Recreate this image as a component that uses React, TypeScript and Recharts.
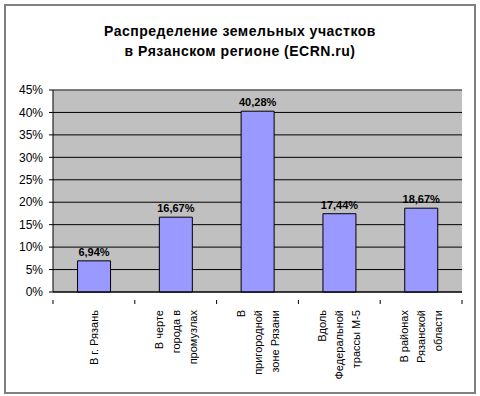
import React from "react";
import {
  BarChart,
  Bar,
  XAxis,
  YAxis,
  CartesianGrid,
  LabelList,
  ReferenceLine,
} from "recharts";

const categories: string[][] = [
  ["В г. Рязань"],
  ["В черте", "города в", "промузлах"],
  ["В", "пригородной", "зоне Рязани"],
  ["Вдоль", "Федеральной", "трассы М-5"],
  ["В районах", "Рязанской", "области"],
];

const shares: number[] = [6.94, 16.67, 40.28, 17.44, 18.67];

const yTicks: number[] = [0, 5, 10, 15, 20, 25, 30, 35, 40, 45];

const data = categories.map((lines, i) => ({
  name: lines.join(" "),
  lines,
  value: shares[i],
}));

const W = 480;
const H = 396;
const margin = { top: 90, right: 18, left: 8, bottom: 0 };
const yAxisWidth = 45;
const xAxisHeight = 104;
const font = "Arial, 'Liberation Sans', sans-serif";

const plotWidth = W - margin.left - margin.right - yAxisWidth;
const band = plotWidth / categories.length;

const fmt = (v: unknown) => `${Number(v).toFixed(2).replace(".", ",")}%`;

function XTick(props: any) {
  const { x, y, payload, index } = props;
  const lines: string[] = data[index]?.lines ?? [String(payload.value)];
  const y0 = y + 10;
  const s = 17;
  return (
    <g>
      <line x1={x - band / 2} x2={x - band / 2} y1={y} y2={y + 4} stroke="#000" />
      {index === categories.length - 1 && (
        <line x1={x + band / 2} x2={x + band / 2} y1={y} y2={y + 4} stroke="#000" />
      )}
      <text
        transform={`rotate(-90, ${x}, ${y0})`}
        textAnchor="end"
        fontSize={11}
        fontFamily={font}
        fill="#000"
      >
        {lines.map((ln, i) => (
          <tspan key={i} x={x} y={y0 + (i - (lines.length - 1) / 2) * s + 4}>
            {ln}
          </tspan>
        ))}
      </text>
    </g>
  );
}

export default function App() {
  return (
    <div
      style={{
        position: "absolute",
        left: 0,
        top: 0,
        width: W,
        height: H,
        background: "#fff",
        fontFamily: font,
      }}
    >
      <div
        style={{
          position: "absolute",
          left: 4,
          top: 4,
          width: 468,
          height: 386,
          border: "2px solid #808080",
        }}
      />
      <div
        style={{
          position: "absolute",
          left: 0,
          top: 21,
          width: W,
          textAlign: "center",
          fontSize: 14,
          letterSpacing: 0.5,
          fontWeight: "bold",
          lineHeight: "20px",
          color: "#000",
        }}
      >
        Распределение земельных участков
        <br />в Рязанском регионе (ECRN.ru)
      </div>
      <div style={{ position: "absolute", left: 0, top: 0 }}>
        <BarChart
          width={W}
          height={H}
          data={data}
          margin={margin}
          barCategoryGap="30%"
        >
          <CartesianGrid
            vertical={false}
            stroke="#000"
            fill="#C0C0C0"
            fillOpacity={1}
          />
          <ReferenceLine y={45} stroke="#808080" />
          <XAxis
            dataKey="name"
            height={xAxisHeight}
            interval={0}
            tickLine={false}
            axisLine={{ stroke: "#000" }}
            tick={<XTick />}
          />
          <YAxis
            width={yAxisWidth}
            domain={[0, 45]}
            ticks={yTicks}
            interval={0}
            tickSize={4}
            tickMargin={6}
            tickLine={{ stroke: "#000" }}
            axisLine={{ stroke: "#000" }}
            tickFormatter={(v: number) => `${v}%`}
            tick={{ fill: "#000", fontSize: 12, fontFamily: font }}
          />
          <Bar
            dataKey="value"
            fill="#9999FF"
            stroke="#000"
            strokeWidth={1}
            isAnimationActive={false}
          >
            <LabelList
              dataKey="value"
              position="top"
              offset={5}
              formatter={fmt}
              style={{
                fill: "#000",
                fontSize: 11,
                fontWeight: "bold",
                fontFamily: font,
              }}
            />
          </Bar>
        </BarChart>
      </div>
    </div>
  );
}
